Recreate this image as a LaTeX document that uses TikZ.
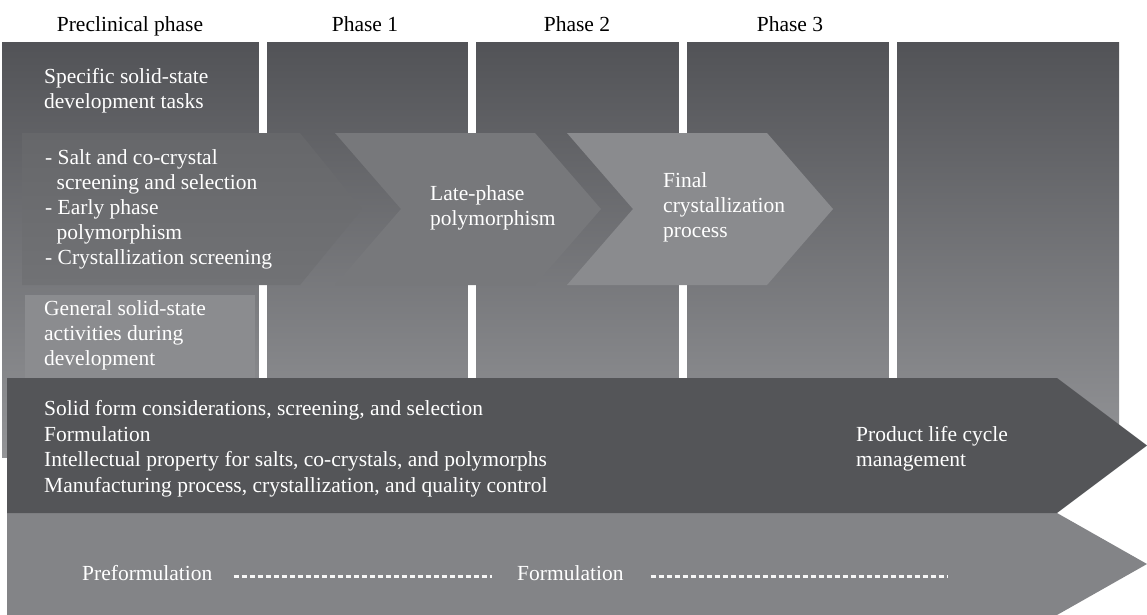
\documentclass[tikz,border=0pt]{standalone}
\usepackage{fontspec}
\setmainfont{Liberation Serif}
\definecolor{bgtop}{HTML}{525357}
\definecolor{bgmid}{HTML}{717275}
\definecolor{bgbot}{HTML}{939497}
\definecolor{genbox}{HTML}{8B8C8F}
\definecolor{chevAtop}{HTML}{66676A}
\definecolor{chevAbot}{HTML}{717275}
\definecolor{chevB}{HTML}{77787B}
\definecolor{chevC}{HTML}{8A8B8E}
\definecolor{darkband}{HTML}{545558}
\definecolor{lightband}{HTML}{838487}
\begin{document}
\begin{tikzpicture}[x=1pt,y=-1pt,
  txt/.style={font=\fontsize{21.5}{25}\selectfont, inner sep=0pt, align=left, anchor=base west, text=white},
  head/.style={font=\fontsize{21.5}{25}\selectfont, inner sep=0pt, anchor=base, text=black},
  dashline/.style={draw=white!94!gray, line width=3pt, dash pattern=on 5.5pt off 2.5pt},
]
\useasboundingbox (0,0) rectangle (1147,614);
\fill[white] (0,0) rectangle (1147,614);

% shaded backdrop behind the phases
\shade[top color=bgtop, middle color=bgmid, bottom color=bgbot] (2,42) rectangle (1119,457);

% white phase separators
\foreach \cx in {263,472,683,893}
  \fill[white] ({\cx-4},42) rectangle ({\cx+4},378);

% box for the general activities
\fill[genbox] (25,295) rectangle (255,378);

% chevrons of the specific tasks
\shade[top color=chevAtop, bottom color=chevAbot]
  (22,133) -- (300,133) -- (362,209) -- (300,285) -- (22,285) -- cycle;
\fill[chevB] (335,133) -- (535,133) -- (601,209) -- (535,285) -- (335,285) -- (401,209) -- cycle;
\fill[chevC] (567,133) -- (767,133) -- (833,209) -- (767,285) -- (567,285) -- (633,209) -- cycle;

% long arrows at the bottom
\fill[lightband] (7,513) -- (1057,513) -- (1147,564) -- (1057,615) -- (7,615) -- cycle;
\fill[darkband] (7,378) -- (1057,378) -- (1147,445.5) -- (1057,513) -- (7,513) -- cycle;

% phase headings
\node[head] (pre) at (130,31) {Preclinical phase};
\node[head] (p1) at (365,31) {Phase 1};
\node[head] (p2) at (577,31) {Phase 2};
\node[head] (p3) at (790,31) {Phase 3};

% texts (each placed at the baseline of its last line)
\node[txt] (spec) at (44,108) {Specific solid-state\\development tasks};
\node[txt] (early) at (45,264) {- Salt and co-crystal\\\hspace*{11.5pt}screening and selection\\- Early phase\\\hspace*{11.5pt}polymorphism\\- Crystallization screening};
\node[txt] (late) at (430,225) {Late-phase\\polymorphism};
\node[txt] (final) at (663,237) {Final\\crystallization\\process};
\node[txt] (gen) at (44,365) {General solid-state\\activities during\\development};
\node[txt, font=\fontsize{21.5}{25.5}\selectfont] (solid) at (44,492)
  {Solid form considerations, screening, and selection\\Formulation\\Intellectual property for salts, co-crystals, and polymorphs\\Manufacturing process, crystallization, and quality control};
\node[txt] (plcm) at (856,466) {Product life cycle\\management};
\node[txt] (prefo) at (82,580) {Preformulation};
\node[txt] (form) at (517,580) {Formulation};

% dashed progress lines
\coordinate (dashend) at (947,576);
\draw[dashline] ([xshift=21pt]prefo.east |- dashend) -- ([xshift=-25pt]form.west |- dashend);
\draw[dashline] ([xshift=27pt]form.east |- dashend) -- (dashend);
\end{tikzpicture}
\end{document}
